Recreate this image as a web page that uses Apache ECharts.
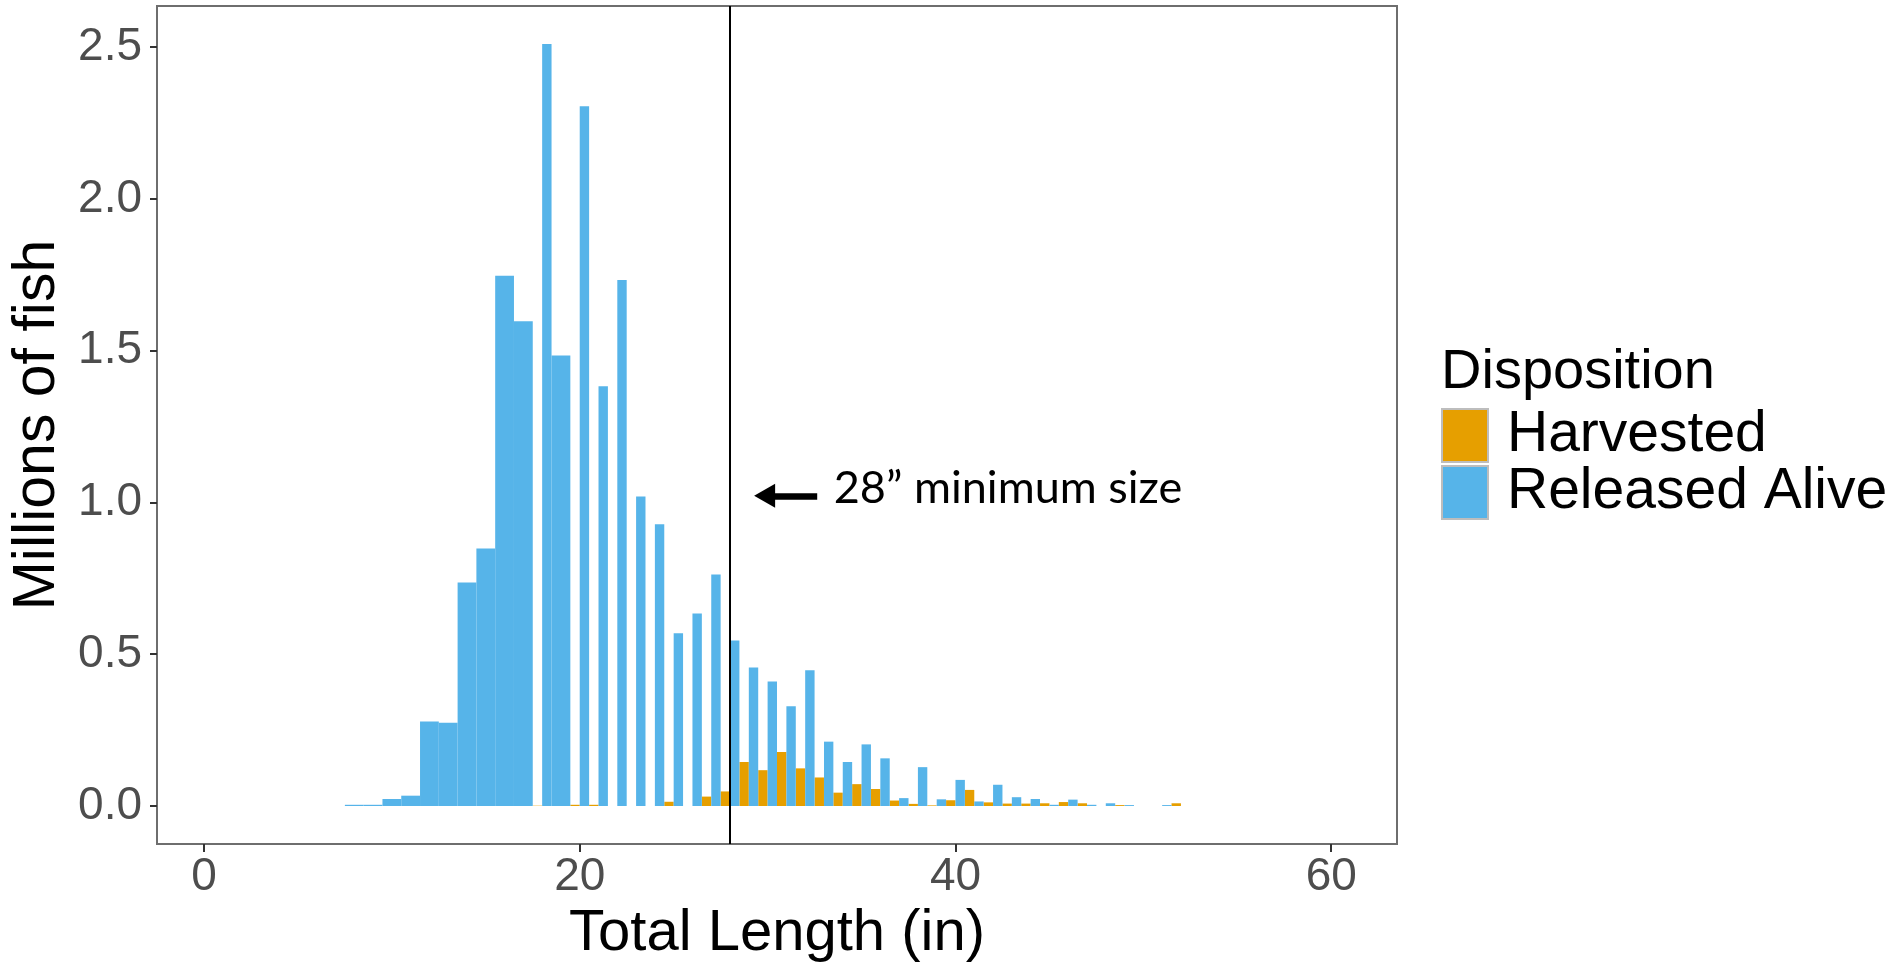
<!DOCTYPE html>
<html>
<head>
<meta charset="utf-8">
<script src="https://cdn.jsdelivr.net/npm/echarts@6/dist/echarts.min.js"></script>
<style>
  html, body { margin: 0; padding: 0; background: #fff; }
  #chart { width: 1897px; height: 968px; }
</style>
</head>
<body>
<div id="chart"></div>
<script>
// ---- data (total length bins in inches, millions of fish) ----
const bins = [8, 9, 10, 11, 12, 13, 14, 15, 16, 17, 18, 19, 20, 21, 22, 23, 24, 25, 26, 27, 28, 29, 30,
  31, 32, 33, 34, 35, 36, 37, 38, 39, 40, 41, 42, 43, 44, 45, 46, 47, 48, 49, 50, 51, 52];
// null = no fish of that disposition recorded in that bin
const harvested = [null, null, null, null, null, null, null, null, null, null, 0.001, null, 0.004, 0.004,
  0, 0, 0, 0.014, 0, 0.031, 0.048, 0.145, 0.118, 0.178, 0.124, 0.094, 0.044, 0.072, 0.056, 0.018,
  0.007, 0.002, 0.019, 0.053, 0.012, 0.008, 0.008, 0.009, 0.013, 0.009, 0, 0.003, null, 0, 0.009];
const released = [0.004, 0.004, 0.023, 0.034, 0.278, 0.274, 0.736, 0.848, 1.747, 1.597, 2.51, 1.484,
  2.305, 1.383, 1.733, 1.02, 0.928, 0.569, 0.634, 0.763, 0.545, 0.456, 0.41, 0.329, 0.447, 0.212,
  0.145, 0.203, 0.157, 0.026, 0.128, 0.022, 0.086, 0.015, 0.07, 0.029, 0.023, 0.004, 0.021, 0.004,
  0.009, 0.003, null, 0.003, 0];
const seriesNames = ['Harvested', 'Released Alive'];
const xTicks = [0, 20, 40, 60];
const yTicks = [0, 0.5, 1.0, 1.5, 2.0, 2.5];
const minimumSize = 28;
const annotationText = '28\u201D minimum size';

// ---- build dodged rectangles (ggplot position = "dodge") ----
function dodged(values, others, side) {
  const out = [];
  bins.forEach((b, i) => {
    const v = values[i];
    if (v == null) return;
    const full = others[i] == null;
    let x0, x1;
    if (full) { x0 = b - 0.5; x1 = b + 0.5; }
    else if (side === 'left') { x0 = b - 0.5; x1 = b; }
    else { x0 = b; x1 = b + 0.5; }
    out.push([b, v, x0, x1]);
  });
  return out;
}

const colors = ['#E69F00', '#56B4E9'];
function renderRect(color) {
  return function (params, api) {
    const p0 = api.coord([api.value(2), api.value(1)]);
    const p1 = api.coord([api.value(3), 0]);
    return {
      type: 'rect',
      shape: { x: p0[0], y: p0[1], width: p1[0] - p0[0], height: p1[1] - p0[1] },
      style: { fill: color }
    };
  };
}

const FONT = '"Liberation Sans", Arial, Helvetica, sans-serif';
const chart = echarts.init(document.getElementById('chart'), null, { renderer: 'canvas' });

const option = {
  backgroundColor: '#ffffff',
  animation: false,
  title: {
    text: 'Disposition',
    left: 1441,
    top: 345,
    padding: 0,
    textStyle: { fontFamily: FONT, fontSize: 56, fontWeight: 'normal', color: '#000000' }
  },
  legend: {
    data: seriesNames,
    orient: 'vertical',
    left: 1441,
    top: 407,
    padding: 0,
    itemGap: 0,
    itemWidth: 46,
    itemHeight: 53,
    icon: 'rect',
    selectedMode: false,
    itemStyle: { borderColor: '#BDBDBD', borderWidth: 2 },
    textStyle: { fontFamily: FONT, fontSize: 57, color: '#000000', lineHeight: 53, padding: [0, 0, 0, 14] }
  },
  grid: {
    left: 155.5, top: 6, width: 1241.5, height: 841.7,
    show: true, borderColor: '#6E6E6E', borderWidth: 2, backgroundColor: '#ffffff'
  },
  xAxis: {
    type: 'value',
    min: -2.5, max: 63.5,
    name: 'Total Length (in)',
    nameLocation: 'middle',
    nameGap: 58,
    nameTextStyle: { fontFamily: FONT, fontSize: 58, color: '#000000' },
    axisLine: { show: false, onZero: false },
    splitLine: { show: false },
    axisTick: { show: true, length: 8, lineStyle: { color: '#333333', width: 2 }, customValues: xTicks },
    axisLabel: { show: true, customValues: xTicks, margin: 10, fontFamily: FONT, fontSize: 46, color: '#4D4D4D' }
  },
  yAxis: {
    type: 'value',
    min: -0.1255, max: 2.6355,
    name: 'Millions of fish',
    nameLocation: 'middle',
    nameRotate: 90,
    nameGap: 90,
    nameTextStyle: { fontFamily: FONT, fontSize: 59, color: '#000000' },
    axisLine: { show: false, onZero: false },
    splitLine: { show: false },
    axisTick: { show: true, length: 7, lineStyle: { color: '#333333', width: 2 }, customValues: yTicks },
    axisLabel: {
      show: true, customValues: yTicks, margin: 15, fontFamily: FONT, fontSize: 46, color: '#4D4D4D',
      formatter: v => Number(v).toFixed(1)
    }
  },
  series: [
    {
      name: seriesNames[0], type: 'custom', itemStyle: { color: colors[0] },
      renderItem: renderRect(colors[0]), encode: { x: 0, y: 1 },
      data: dodged(harvested, released, 'left'), z: 2
    },
    {
      name: seriesNames[1], type: 'custom', itemStyle: { color: colors[1] },
      renderItem: renderRect(colors[1]), encode: { x: 0, y: 1 },
      data: dodged(released, harvested, 'right'), z: 2
    },
    {
      name: 'minLine', type: 'line', data: [], silent: true, z: 5,
      markLine: {
        silent: true, symbol: ['none', 'none'], animation: false,
        label: { show: false },
        lineStyle: { color: '#000000', width: 2, type: 'solid' },
        data: [{ xAxis: minimumSize }]
      }
    },
    {
      name: 'arrow', type: 'line', data: [], silent: true, z: 5,
      markLine: {
        silent: true, animation: false,
        symbol: ['none', 'triangle'],
        symbolSize: [24, 21],
        label: { show: false },
        lineStyle: { color: '#000000', width: 6.5, type: 'solid', cap: 'butt' },
        data: [[{ coord: [32.64, 1.022] }, { coord: [29.84, 1.022] }]]
      },
      markPoint: {
        silent: true, animation: false,
        symbol: 'circle', symbolSize: 0,
        label: {
          show: true, position: 'right', distance: 0,
          formatter: annotationText,
          fontFamily: 'Lato, "Open Sans", sans-serif', fontSize: 45, color: '#000000'
        },
        data: [{ coord: [33.52, 1.046] }]
      }
    }
  ]
};
chart.setOption(option);
</script>
</body>
</html>
